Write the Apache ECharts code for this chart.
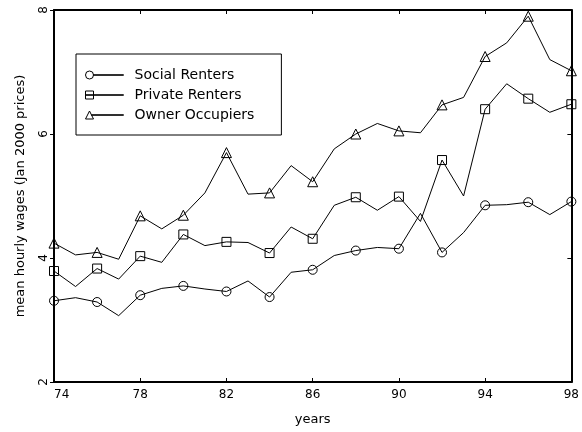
<!DOCTYPE html>
<html>
<head>
<meta charset="utf-8">
<script src="https://cdn.jsdelivr.net/npm/echarts@6/dist/echarts.min.js"></script>
<style>
html,body{margin:0;padding:0;background:#fff;}
#chart{width:582px;height:432px;}
</style>
</head>
<body>
<div id="chart"></div>
<script>
var years = [74,75,76,77,78,79,80,81,82,83,84,85,86,87,88,89,90,91,92,93,94,95,96,97,98];
var socialRenters = [3.31,3.36,3.29,3.07,3.40,3.51,3.55,3.50,3.46,3.63,3.37,3.77,3.81,4.04,4.12,4.17,4.15,4.72,4.09,4.41,4.85,4.86,4.90,4.70,4.91];
var privateRenters = [3.79,3.54,3.83,3.66,4.03,3.93,4.38,4.20,4.26,4.25,4.08,4.50,4.31,4.85,4.98,4.77,4.99,4.59,5.58,5.00,6.40,6.81,6.57,6.35,6.48];
var ownerOccupiers = [4.24,4.05,4.09,3.98,4.68,4.47,4.69,5.05,5.70,5.03,5.05,5.49,5.23,5.76,6.00,6.17,6.05,6.02,6.47,6.59,7.25,7.47,7.90,7.20,7.02];
var seriesNames = ['Social Renters','Private Renters','Owner Occupiers'];
var xTicks = {min:74, max:98, interval:4};
var yTicks = {min:2, max:8, interval:2};

var FONT = 'DejaVu Sans';
function pairs(vals){ return years.map(function(y,i){ return [y, vals[i]]; }); }
function makeSeries(name, vals, symbol){
  return {
    name: name, type: 'line', data: pairs(vals),
    symbol: symbol,
    symbolSize: function(v, p){ return p.dataIndex % 2 === 0 ? (symbol==='triangle'?10:9) : 0; },
    showAllSymbol: true,
    lineStyle: {color:'#000', width:1},
    itemStyle: {color:'rgba(0,0,0,0)', borderColor:'#000', borderWidth:1},
    emphasis: {disabled:true},
    xAxisIndex:0, yAxisIndex:0,
    z: 3
  };
}
var chart = echarts.init(document.getElementById('chart'), null, {renderer:'canvas'});
chart.setOption({
  animation: false,
  backgroundColor: '#fff',
  grid: {left:54, right:4, top:10, bottom:50, containLabel:false},
  legend: {
    orient: 'vertical', left: 76, top: 54,
    padding: [14, 27, 13, 9],
    borderColor: '#000', borderWidth: 1, borderRadius: 0,
    itemWidth: 38, itemHeight: 8, itemGap: 6,
    selectedMode: false,
    textStyle: {fontFamily: FONT, fontSize: 14, color:'#000', lineHeight: 14, padding:[0,0,0,6]},
    itemStyle: {color:'#fff', borderColor:'#000', borderWidth:1},
    data: [
      {name: seriesNames[0], icon: 'path://M0,4 A4,4 0 1,1 8,4 A4,4 0 1,1 0,4 Z M8,3.75 L38,3.75 L38,4.25 L8,4.25 Z'},
      {name: seriesNames[1], icon: 'path://M0,0 L8,0 L8,8 L0,8 Z M8,3.75 L38,3.75 L38,4.25 L8,4.25 Z M0,3.75 L8,3.75 L8,4.25 L0,4.25 Z'},
      {name: seriesNames[2], icon: 'path://M0,8 L4,0 L8,8 Z M6,3.75 L38,3.75 L38,4.25 L6,4.25 Z'}
    ]
  },
  xAxis: [{
    type:'value', min:xTicks.min, max:xTicks.max, interval:xTicks.interval,
    name:'years', nameLocation:'middle', nameGap:31,
    nameTextStyle:{fontFamily:FONT, fontSize:13, color:'#000'},
    axisLine:{show:true, lineStyle:{color:'#000', width:2}},
    axisTick:{show:true, inside:true, length:4, lineStyle:{color:'#000', width:1}},
    axisLabel:{fontFamily:FONT, fontSize:12, color:'#000', margin:7, showMinLabel:true, showMaxLabel:true, alignMinLabel:'left'},
    splitLine:{show:false}
  },{
    type:'value', position:'top', min:xTicks.min, max:xTicks.max, interval:xTicks.interval,
    axisLine:{show:true, lineStyle:{color:'#000', width:2}},
    axisTick:{show:true, inside:true, length:4, lineStyle:{color:'#000', width:1}},
    axisLabel:{show:false}, splitLine:{show:false}
  }],
  yAxis: [{
    type:'value', min:yTicks.min, max:yTicks.max, interval:yTicks.interval,
    name:'mean hourly wages (Jan 2000 prices)', nameLocation:'middle', nameGap:27, nameRotate:90,
    nameTextStyle:{fontFamily:FONT, fontSize:13, color:'#000'},
    axisLine:{show:true, lineStyle:{color:'#000', width:2}},
    axisTick:{show:true, inside:false, length:4, lineStyle:{color:'#000', width:1}},
    axisLabel:{fontFamily:FONT, fontSize:12, color:'#000', margin:4, rotate:90, showMinLabel:true, showMaxLabel:true},
    splitLine:{show:false}
  },{
    type:'value', position:'right', min:yTicks.min, max:yTicks.max, interval:yTicks.interval,
    axisLine:{show:true, lineStyle:{color:'#000', width:2}},
    axisTick:{show:true, inside:true, length:4, lineStyle:{color:'#000', width:1}},
    axisLabel:{show:false}, splitLine:{show:false}
  }],
  series: [
    makeSeries(seriesNames[0], socialRenters, 'circle'),
    makeSeries(seriesNames[1], privateRenters, 'rect'),
    makeSeries(seriesNames[2], ownerOccupiers, 'triangle')
  ]
});
</script>
</body>
</html>
